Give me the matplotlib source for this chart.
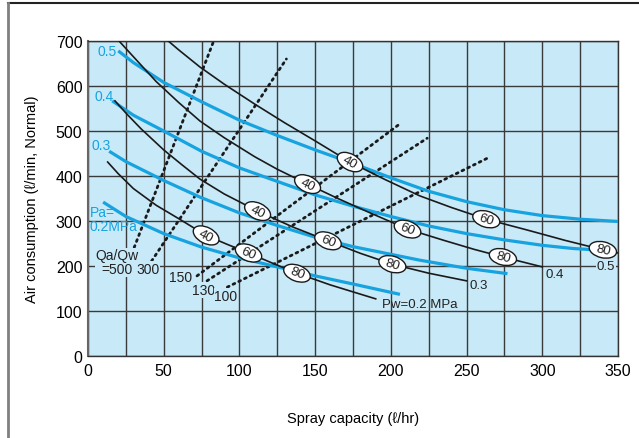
import numpy as np
import matplotlib
matplotlib.use("Agg")
import matplotlib.pyplot as plt
import matplotlib.transforms as mtransforms
from matplotlib.patches import Ellipse
from matplotlib.lines import Line2D

plt.rcParams['font.family'] = ['Liberation Sans', 'DejaVu Sans']

# air pressure curves (blue)
pa_02_x = [10, 25, 50, 75, 100, 125, 150, 175, 206]
pa_02_y = [342, 310, 272, 242, 218, 198, 178, 160, 137]
pa_03_x = [14, 25, 50, 74, 100, 125, 150, 175, 200, 219, 250, 277]
pa_03_y = [455, 432, 390, 353, 318, 290, 264, 243, 226, 213, 195, 183]
pa_04_x = [16, 30, 50, 75, 100, 125, 150, 175, 200, 225, 250, 275, 300, 320, 339]
pa_04_y = [567, 535, 500, 455, 418, 388, 358, 333, 310, 289, 272, 258, 246, 239, 235]
pa_05_x = [20, 30, 50, 75, 100, 125, 150, 175, 200, 225, 250, 275, 300, 325, 350]
pa_05_y = [678, 652, 608, 565, 524, 490, 458, 428, 396, 366, 343, 325, 312, 304, 299]

# water pressure curves (black)
pw_02_x = [13, 20, 30, 45, 60, 78, 92, 106, 122, 138, 160, 190]
pw_02_y = [431, 405, 372, 335, 305, 268, 248, 229, 206, 184, 158, 127]
pw_03_x = [17.8, 25, 35, 50, 62, 74, 90, 112, 135, 158.5, 180, 201, 225, 250]
pw_03_y = [567, 540, 505, 458, 425, 393, 360, 322, 287, 256, 228, 204, 184, 167]
pw_04_x = [20.5, 30, 45, 60, 74, 90, 110, 125, 145, 165, 185, 211, 235, 255, 274, 300]
pw_04_y = [700, 665, 610, 563, 522, 485, 443, 415, 382, 350, 320, 282, 257, 237, 220, 198]
pw_05_x = [53, 60, 74, 90, 110, 130, 150, 173, 195, 219, 240, 263, 290, 315, 340, 350]
pw_05_y = [700, 680, 642, 604, 560, 518, 478, 431, 394, 356, 330, 304, 280, 257, 236, 229]

# air/water ratio lines (dotted)
ratio_txt = ['Qa/Qw\n=500', '300', '150', '130', '100']
ratio_x0 = [29, 42, 72, 78.6, 92]
ratio_y0 = [228, 211, 178, 167, 153]
ratio_x1 = [83, 131, 206, 224, 264]
ratio_y1 = [700, 660, 516, 484, 440]
ratio_lx = [19, 39.6, 61, 76, 91]
ratio_ly = [208, 193, 175, 147, 133]

# nozzle size labels on the black curves
size_labels = ['40', '60', '80']
size_x = [[78, 106, 138], [112, 158.5, 201], [145, 211, 274], [173, 263, 340]]

blue = '#16a3e0'
bg = '#c8e9f8'
ink = '#1a1a1a'

fig = plt.figure(figsize=(6.39, 4.39), dpi=100)
ax = fig.add_axes([88 / 639, 1 - 357 / 439, 530 / 639, 315 / 439])
ax.set_facecolor(bg)
ax.set_xlim(0, 350)
ax.set_ylim(0, 700)
ax.set_xticks(np.arange(0, 351, 50))
ax.set_xticks(np.arange(0, 351, 25), minor=True)
ax.set_yticks(np.arange(0, 701, 100))
ax.grid(True, which='both', color='#3a3a3a', lw=1.0, zorder=0)
ax.set_axisbelow(True)
ax.tick_params(axis='x', which='both', length=0, pad=5, labelsize=11.5)
ax.tick_params(axis='y', which='both', length=0, pad=4, labelsize=11.5)
for s in ax.spines.values():
    s.set_color('#333')
    s.set_linewidth(1.0)
ax.spines['left'].set_color('#666')
ax.spines['left'].set_linewidth(1.5)

# dotted ratio lines
for i in range(len(ratio_txt)):
    ax.plot([ratio_x0[i], ratio_x1[i]], [ratio_y0[i], ratio_y1[i]], color=ink,
            lw=2.0, linestyle=(0, (0.7, 1.6)), dash_capstyle='round', zorder=2)

for xs, ys in [(pa_02_x, pa_02_y), (pa_03_x, pa_03_y), (pa_04_x, pa_04_y), (pa_05_x, pa_05_y)]:
    ax.plot(xs, ys, color=blue, lw=2.3, solid_capstyle='butt', zorder=3)

pw_curves = [(pw_02_x, pw_02_y), (pw_03_x, pw_03_y), (pw_04_x, pw_04_y), (pw_05_x, pw_05_y)]
for xs, ys in pw_curves:
    ax.plot(xs, ys, color=ink, lw=1.2, zorder=4)

# ellipse labels
for (xs, ys), lx in zip(pw_curves, size_x):
    for lab, x in zip(size_labels, lx):
        y = np.interp(x, xs, ys)
        p1 = ax.transData.transform((x - 4, np.interp(x - 4, xs, ys)))
        p2 = ax.transData.transform((x + 4, np.interp(x + 4, xs, ys)))
        ang = np.degrees(np.arctan2(p2[1] - p1[1], p2[0] - p1[0]))
        tr = (mtransforms.Affine2D().rotate_deg(ang).scale(1 / 72) + fig.dpi_scale_trans
              + mtransforms.ScaledTranslation(x, y, ax.transData))
        e = Ellipse((0, 0), 20, 11.5, transform=tr, facecolor='white', edgecolor=ink,
                    lw=1.0, zorder=5, clip_on=False)
        ax.add_artist(e)
        ax.text(x, y, lab, rotation=ang, rotation_mode='anchor', ha='center', va='center',
                fontsize=9.5, color='#222', zorder=6)

# blue labels
ax.text(6.6, 677, '0.5', color=blue, fontsize=10, ha='left', va='center', zorder=6)
ax.text(4.6, 577, '0.4', color=blue, fontsize=10, ha='left', va='center', zorder=6)
ax.text(2.6, 469, '0.3', color=blue, fontsize=10, ha='left', va='center', zorder=6)
ax.text(1.3, 304, 'Pa=\n0.2MPa', color=blue, fontsize=10, ha='left', va='center',
        linespacing=0.95, zorder=6)

# black end labels
box = dict(boxstyle='square,pad=0.05', fc=bg, ec='none')
ax.text(194, 115, 'Pw=0.2 MPa', color='#222', fontsize=9.5, ha='left', va='center', zorder=6)
ax.text(252, 158, '0.3', color='#222', fontsize=9.5, ha='left', va='center', zorder=6)
ax.text(302, 182, '0.4', color='#222', fontsize=9.5, ha='left', va='center', zorder=6)
ax.text(336, 200, '0.5', color='#222', fontsize=9.5, ha='left', va='center', zorder=6, bbox=box)

# ratio labels
for t, x, y in zip(ratio_txt, ratio_lx, ratio_ly):
    ax.text(x, y, t, color='#222', fontsize=10, ha='center', va='center',
            linespacing=1.0, zorder=6, bbox=box)

ax.set_xlabel('Spray capacity (ℓ/hr)', fontsize=10.5, labelpad=24)
ax.set_ylabel('Air consumption (ℓ/min, Normal)', fontsize=10.5, labelpad=12)

# outer frame
fig.add_artist(Line2D([8 / 639, 1], [1 - 4 / 439, 1 - 4 / 439], transform=fig.transFigure,
                      color='#222', lw=1.5))
fig.add_artist(Line2D([8 / 639, 8 / 639], [0, 1 - 4 / 439], transform=fig.transFigure,
                      color='#808080', lw=2))

fig.savefig('out.png', dpi=100)
